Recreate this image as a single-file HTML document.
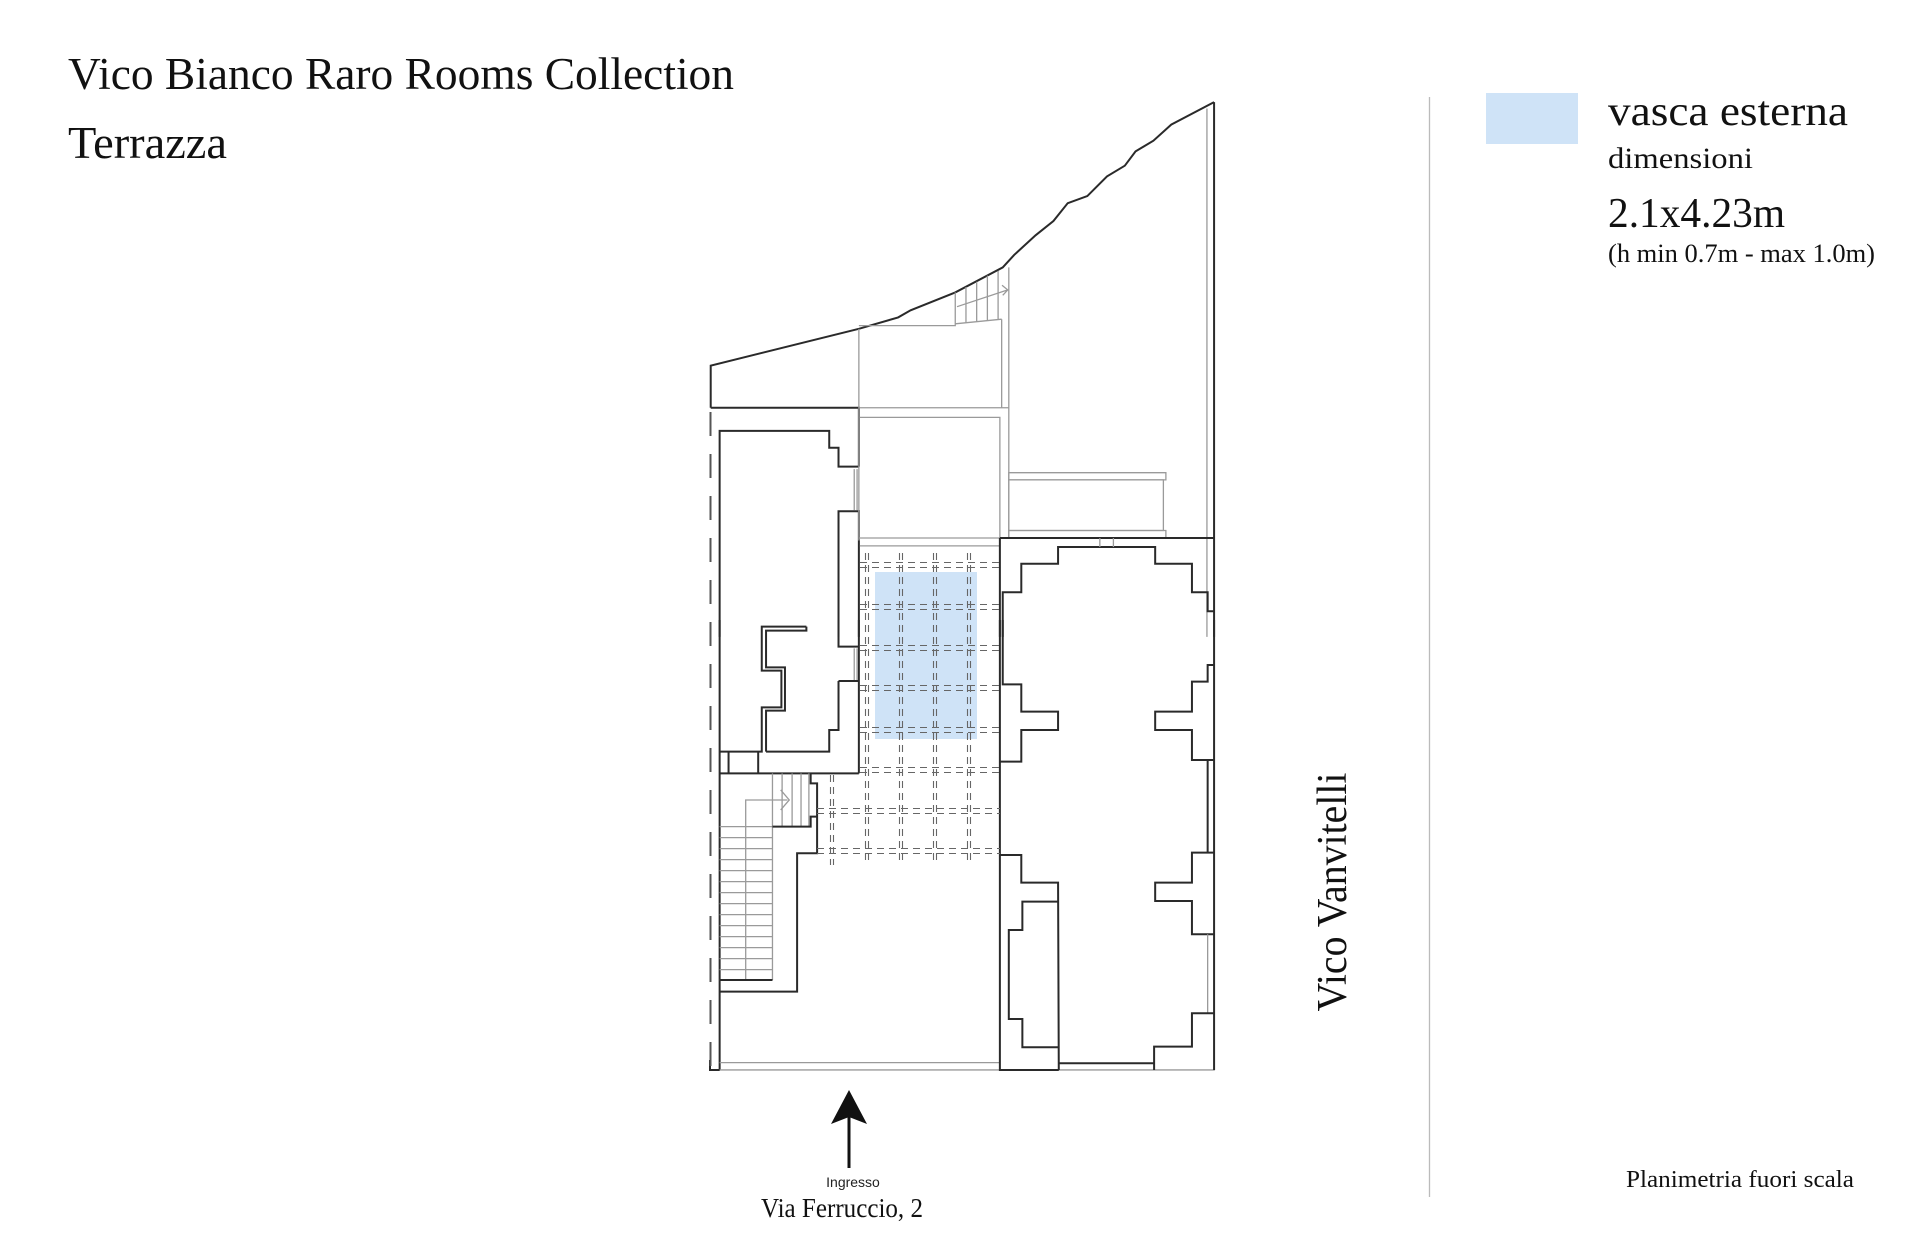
<!DOCTYPE html>
<html><head><meta charset="utf-8"><style>
html,body{margin:0;padding:0;background:#fff;}
svg{display:block;}
.k{fill:none;stroke:#2a2a2a;stroke-width:2;vector-effect:non-scaling-stroke;stroke-linejoin:miter;}
.g{fill:none;stroke:#9a9a9a;stroke-width:1.3;vector-effect:non-scaling-stroke;}
.d{fill:none;stroke:#666;stroke-width:1.1;stroke-dasharray:7 5;}
.sr{font-family:"Liberation Serif",serif;fill:#111;}
</style></head><body>
<svg width="1920" height="1238" viewBox="0 0 1920 1238" xmlns="http://www.w3.org/2000/svg">
<rect width="1920" height="1238" fill="#fff"/>
<!-- blue pool -->
<rect x="875" y="572" width="102" height="167" fill="#cfe3f7"/>

<!-- group 1: upper part -->
<g transform="translate(700,80) scale(0.357,0.357)">
<polyline class="k" points="30,918 30,800 445,697 555,665 590,645 715,595 848,525 880,490 940,435 990,395 1030,345 1085,325 1140,270 1190,240 1220,200 1270,170 1320,125 1440,62"/>
<path class="k" d="M1440,62 V1560"/>
<path class="g" d="M1420,80 V1560"/>
<path class="k" d="M30,918 H445 V1083"/>
<polyline class="k" points="55,1560 55,983 362,983 362,1030 388,1030 388,1083 445,1083"/>
<path class="g" d="M432,1090 V1205 M440,1090 V1205"/>
<path class="k" d="M445,1205 V1560 M388,1560 V1208 H445"/>
<path class="g" d="M445,697 V1290 M445,918 H865 M845,670 V918 M445,688 H715 V595 M745,580 V680 M775,565 V678 M805,548 V675 M835,535 V672 M715,683 L845,670 M865,525 V1283 M720,635 L862,588 M846,575 L862,588 L848,603"/>
<path class="g" d="M448,945 H840 V1283 M445,1283 H840 M448,1305 H840"/>
<rect class="g" x="865" y="1100" width="440" height="20"/>
<rect class="g" x="865" y="1120" width="433" height="142"/>
<rect class="g" x="865" y="1262" width="440" height="21"/>
<path class="k" d="M840,1283 H1440 M840,1283 V1560"/>
<polyline class="k" points="848,1560 848,1435 900,1435 900,1355 1003,1355 1003,1308 1275,1308 1275,1355 1378,1355 1378,1435 1422,1435 1422,1488 1440,1488"/>
<path class="g" d="M1120,1283 V1308 M1158,1283 V1308"/>
</g>

<!-- group 2: lower part -->
<g transform="translate(700,620) scale(0.357,0.3333)">
<path class="k" d="M55,0 V1350 M445,0 V460 M388,0 V80 H445"/>
<path class="g" d="M432,85 V183 M440,85 V183"/>
<path class="k" d="M388,183 H445 M388,183 V330 H362 V395 H185"/>
<polyline class="k" points="298,20 173,20 173,152 228,152 228,262 173,262 173,395 55,395"/>
<polyline class="k" points="298,20 298,32 185,32 185,142 238,142 238,272 185,272 185,395"/>
<path class="k" d="M80,395 V460 M163,395 V460 M55,460 H445"/>
<path class="g" d="M203,460 V1080 M55,1080 H203 M55,620 H203 M55,653 H203 M55,686 H203 M55,719 H203 M55,752 H203 M55,785 H203 M55,818 H203 M55,851 H203 M55,884 H203 M55,917 H203 M55,950 H203 M55,983 H203 M55,1016 H203 M55,1049 H203"/>
<path class="g" d="M230,460 V620 M258,460 V620 M283,460 V620 M305,460 V620 M203,620 H310"/>
<path class="g" d="M128,1080 V540 H245 M226,510 L250,540 L226,570"/>
<path class="k" d="M203,1080 H55 M310,460 V490 H328 V590 H310 V620 H203 M328,590 V700 H272 V1115 H55"/>
<path class="g" d="M55,1328 H840 M28,1350 H1442"/>
<path class="k" d="M28,1320 V1350 H55"/>
<path class="k" d="M840,0 V1350 H1005 M1440,0 V1350"/>
<polyline class="k" points="1440,135 1422,135 1422,185 1378,185 1378,275 1275,275 1275,330 1378,330 1378,420 1440,420"/>
<path class="k" d="M1422,420 V698"/>
<polyline class="k" points="1440,698 1378,698 1378,788 1275,788 1275,843 1378,843 1378,943 1440,943"/>
<path class="g" d="M1422,943 V1180"/>
<polyline class="k" points="1440,1180 1378,1180 1378,1280 1272,1280 1272,1350"/>
<path class="k" d="M1005,1330 H1272"/>
<polyline class="k" points="848,0 848,193 900,193 900,275 1003,275 1003,330 900,330 900,425 840,425"/>
<polyline class="k" points="840,705 900,705 900,788 1003,788 1005,1350"/>
<polyline class="k" points="1003,845 903,845 903,930 865,930 865,1197 903,1197 903,1282 1003,1282"/>
</g>

<!-- left dashed boundary -->
<path d="M710.5,412 V1066" fill="none" stroke="#555" stroke-width="2" stroke-dasharray="24 18"/>

<!-- dashed grid -->
<g>
<path class="d" d="M865.5,553 V865 M868.5,553 V865 M899.5,553 V865 M902.5,553 V865 M933.5,553 V865 M936.5,553 V865 M967.5,553 V865 M970.5,553 V865 M830.5,775 V865 M833.5,775 V865"/>
<path class="d" d="M860,562.5 H1000 M860,567.5 H1000 M860,604.5 H1000 M860,609.5 H1000 M860,645.5 H1000 M860,650.5 H1000 M860,685.5 H1000 M860,690.5 H1000 M860,727.5 H1000 M860,732.5 H1000 M860,767.5 H1000 M860,772.5 H1000 M817,808.5 H1000 M817,813.5 H1000 M817,848.5 H1000 M817,853.5 H1000"/>
</g>

<!-- separator -->
<path d="M1429.5,97 V1197" stroke="#bbb" stroke-width="1.3"/>

<!-- titles -->
<text class="sr" x="68" y="89" font-size="45" textLength="666" lengthAdjust="spacingAndGlyphs">Vico Bianco Raro Rooms Collection</text>
<text class="sr" x="68" y="158" font-size="45" textLength="159" lengthAdjust="spacingAndGlyphs">Terrazza</text>

<!-- legend -->
<rect x="1486" y="93" width="92" height="51" fill="#cfe3f7"/>
<text class="sr" x="1608" y="125" font-size="42" textLength="240" lengthAdjust="spacingAndGlyphs">vasca esterna</text>
<text class="sr" x="1608" y="168" font-size="30" textLength="145" lengthAdjust="spacingAndGlyphs">dimensioni</text>
<text class="sr" x="1608" y="227" font-size="42" textLength="177" lengthAdjust="spacingAndGlyphs">2.1x4.23m</text>
<text class="sr" x="1608" y="262" font-size="26" textLength="267" lengthAdjust="spacingAndGlyphs">(h min 0.7m - max 1.0m)</text>

<!-- street -->
<text class="sr" transform="translate(1346,892) rotate(-90)" text-anchor="middle" font-size="42" textLength="239" lengthAdjust="spacingAndGlyphs">Vico Vanvitelli</text>
<text class="sr" x="1626" y="1187" font-size="24" textLength="228" lengthAdjust="spacingAndGlyphs">Planimetria fuori scala</text>

<!-- entrance -->
<path d="M849,1112 V1168" stroke="#111" stroke-width="3"/>
<polygon points="849,1090 831,1124 849,1117 867,1124" fill="#111"/>
<text x="853" y="1187" text-anchor="middle" font-family="Liberation Sans, sans-serif" font-size="14" fill="#222">Ingresso</text>
<text class="sr" x="761" y="1217" font-size="27" textLength="162" lengthAdjust="spacingAndGlyphs">Via  Ferruccio, 2</text>
</svg>
</body></html>
